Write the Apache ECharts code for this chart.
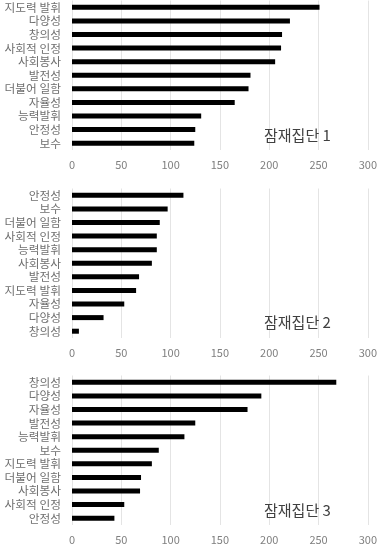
<!DOCTYPE html>
<html><head><meta charset="utf-8">
<script src="https://cdn.jsdelivr.net/npm/echarts@6/dist/echarts.min.js"></script>
<style>html,body{margin:0;padding:0;background:#fff}#c{width:380px;height:554px}</style>
</head><body><div id="c"></div>
<script>
const cats1 = ['지도력 발휘','다양성','창의성','사회적 인정','사회봉사','발전성','더불어 일함','자율성','능력발휘','안정성','보수'];
const vals1 = [251,221,213,212,206,181,179,165,131,125,124];
const cats2 = ['안정성','보수','더불어 일함','사회적 인정','능력발휘','사회봉사','발전성','지도력 발휘','자율성','다양성','창의성'];
const vals2 = [113,97,89,86,86,81,68,65,53,32,7];
const cats3 = ['창의성','다양성','자율성','발전성','능력발휘','보수','지도력 발휘','더불어 일함','사회봉사','사회적 인정','안정성'];
const vals3 = [268,192,178,125,114,88,81,70,69,53,43];
const titles = ['잠재집단 1','잠재집단 2','잠재집단 3'];
const xTicks = [0,50,100,150,200,250,300];

const panels = [[cats1,vals1],[cats2,vals2],[cats3,vals3]];
const tops = [0.5, 188.5, 375.5];
const titleTops = [123, 310, 498];
const font = '"Noto Sans CJK KR", sans-serif';
const chart = echarts.init(document.getElementById('c'));
const option = {
  animation:false,
  title: titles.map((t,i)=>({text:t,left:259,top:titleTops[i],textStyle:{fontFamily:font,fontSize:15,fontWeight:'normal',color:'#404040'}})),
  grid: tops.map(t=>({left:72,right:11,top:t,height:149.5})),
  xAxis: tops.map((t,i)=>({type:'value',gridIndex:i,min:xTicks[0],max:xTicks[xTicks.length-1],interval:50,
    axisLine:{show:false},axisTick:{show:false},
    axisLabel:{color:'#7f7f7f',fontSize:11,fontFamily:font,margin:9},
    splitLine:{lineStyle:{color:'#e4e4e4',width:1}}})),
  yAxis: panels.map((p,i)=>({type:'category',gridIndex:i,data:p[0],inverse:true,
    axisLine:{show:false},axisTick:{show:false},
    axisLabel:{color:'#6f6f6f',fontSize:11.7,fontFamily:font,margin:11,interval:0}})),
  series: panels.map((p,i)=>({type:'bar',xAxisIndex:i,yAxisIndex:i,data:p[1],barWidth:5,itemStyle:{color:'#000'}}))
};
chart.setOption(option);
</script></body></html>
